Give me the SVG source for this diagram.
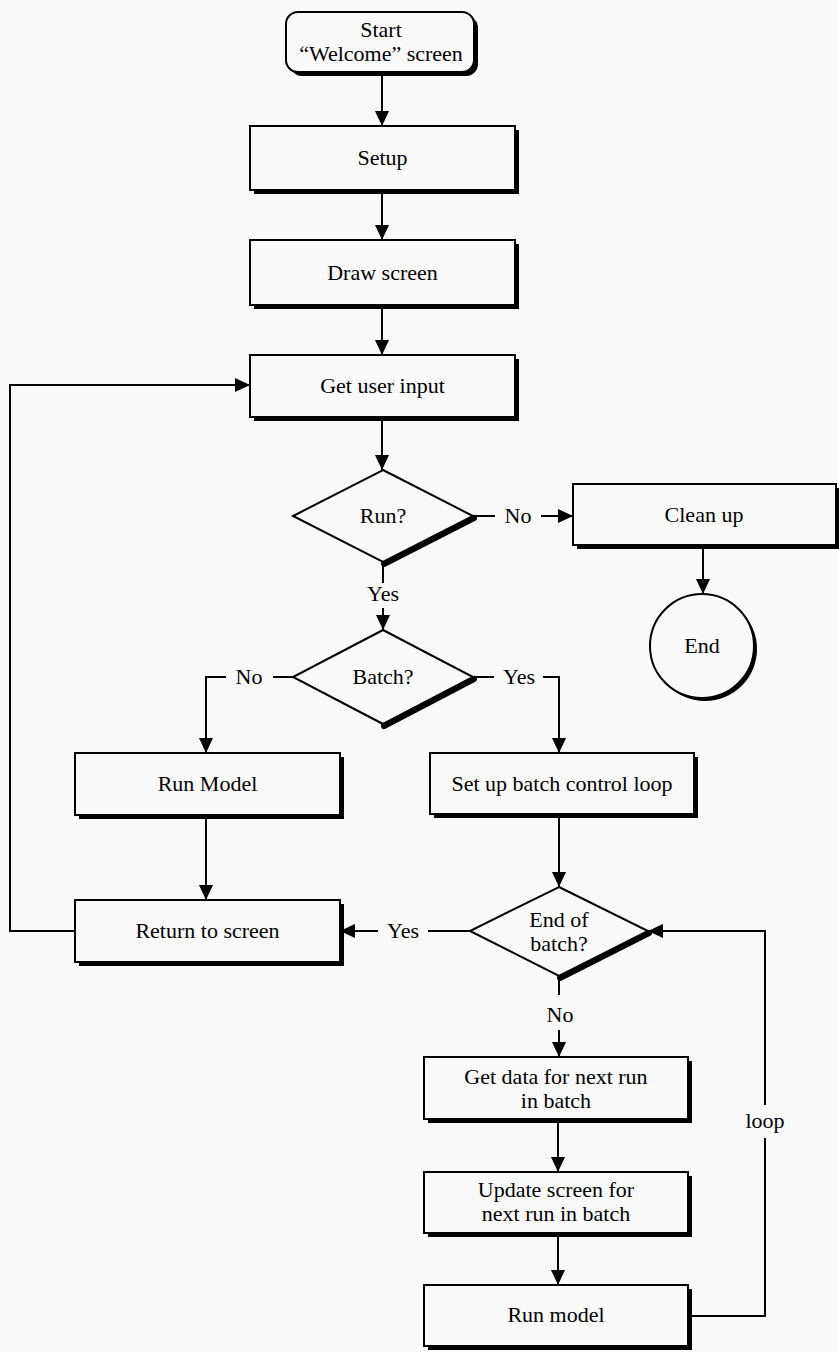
<svg xmlns="http://www.w3.org/2000/svg" width="839" height="1352" viewBox="0 0 839 1352">
<defs>
<marker id="ah" markerUnits="userSpaceOnUse" markerWidth="16" markerHeight="14" refX="15" refY="7" orient="auto">
<path d="M0,0 L15,7 L0,14 z" fill="#000"/>
</marker>
<style>
.box{fill:#fafafa;stroke:#000;stroke-width:2}
.sh{fill:#000;stroke:none}
.dsh{fill:none;stroke:#000;stroke-width:6;stroke-linecap:round}
.t{font-family:"Liberation Serif","Times New Roman",serif;font-size:22px;fill:#000;text-anchor:middle}
.c{fill:none;stroke:#000;stroke-width:2}
</style>
</defs>
<rect width="839" height="1352" fill="#fafafa"/>

<g id="start">
<rect class="sh" x="290" y="16" width="188" height="60" rx="12"/>
<rect class="box" x="286" y="12" width="188" height="60" rx="12"/>
<text class="t" x="381" y="37">Start</text>
<text class="t" x="381" y="61">“Welcome” screen</text>
</g>

<g id="setup">
<rect class="sh" x="254" y="130" width="265" height="64"/>
<rect class="box" x="250" y="126" width="265" height="64"/>
<text class="t" x="382.5" y="165">Setup</text>
</g>

<g id="draw">
<rect class="sh" x="254" y="244" width="265" height="65"/>
<rect class="box" x="250" y="240" width="265" height="65"/>
<text class="t" x="382.5" y="280">Draw screen</text>
</g>

<g id="input">
<rect class="sh" x="254" y="359" width="265" height="62"/>
<rect class="box" x="250" y="355" width="265" height="62"/>
<text class="t" x="382.5" y="393">Get user input</text>
</g>

<g id="run">
<polyline class="dsh" points="474,518 384,564"/>
<polygon class="box" points="383,470 473,516 383,562 293,516"/>
<text class="t" x="383" y="523">Run?</text>
</g>

<g id="cleanup">
<rect class="sh" x="577" y="488" width="263" height="61"/>
<rect class="box" x="573" y="484" width="263" height="61"/>
<text class="t" x="704" y="522">Clean up</text>
</g>

<g id="end">
<circle class="sh" cx="705" cy="649" r="52"/>
<circle class="box" cx="702" cy="646" r="52"/>
<text class="t" x="702" y="653">End</text>
</g>

<g id="batch">
<polyline class="dsh" points="474,679 384,726"/>
<polygon class="box" points="383,630 473,677 383,724 293,677"/>
<text class="t" x="383" y="684">Batch?</text>
</g>

<g id="runmodel">
<rect class="sh" x="79" y="757" width="265" height="62"/>
<rect class="box" x="75" y="753" width="265" height="62"/>
<text class="t" x="207.5" y="791">Run Model</text>
</g>

<g id="return">
<rect class="sh" x="79" y="904" width="265" height="62"/>
<rect class="box" x="75" y="900" width="265" height="62"/>
<text class="t" x="207.5" y="938">Return to screen</text>
</g>

<g id="setupbatch">
<rect class="sh" x="434" y="757" width="264" height="61"/>
<rect class="box" x="430" y="753" width="264" height="61"/>
<text class="t" x="562" y="791">Set up batch control loop</text>
</g>

<g id="endbatch">
<polyline class="dsh" points="649,933 560,978"/>
<polygon class="box" points="559,887 648,931 559,976 470,931"/>
<text class="t" x="559" y="927">End of</text>
<text class="t" x="559" y="951">batch?</text>
</g>

<g id="getdata">
<rect class="sh" x="428" y="1061" width="264" height="62"/>
<rect class="box" x="424" y="1057" width="264" height="62"/>
<text class="t" x="556" y="1084">Get data for next run</text>
<text class="t" x="556" y="1108">in batch</text>
</g>

<g id="update">
<rect class="sh" x="428" y="1176" width="264" height="61"/>
<rect class="box" x="424" y="1172" width="264" height="61"/>
<text class="t" x="556" y="1197">Update screen for</text>
<text class="t" x="556" y="1221">next run in batch</text>
</g>

<g id="runmodel2">
<rect class="sh" x="428" y="1289" width="264" height="61"/>
<rect class="box" x="424" y="1285" width="264" height="61"/>
<text class="t" x="556" y="1322">Run model</text>
</g>

<g id="connectors">
<line class="c" x1="382" y1="74" x2="382" y2="126" marker-end="url(#ah)"/>
<line class="c" x1="382" y1="192" x2="382" y2="240" marker-end="url(#ah)"/>
<line class="c" x1="382" y1="307" x2="382" y2="355" marker-end="url(#ah)"/>
<line class="c" x1="382" y1="419" x2="382" y2="470" marker-end="url(#ah)"/>

<line class="c" x1="473" y1="516" x2="495" y2="516"/>
<text class="t" x="518" y="523">No</text>
<line class="c" x1="541" y1="516" x2="573" y2="516" marker-end="url(#ah)"/>

<line class="c" x1="383" y1="562" x2="383" y2="583"/>
<text class="t" x="383" y="601">Yes</text>
<line class="c" x1="383" y1="608" x2="383" y2="630" marker-end="url(#ah)"/>

<line class="c" x1="703" y1="547" x2="703" y2="594" marker-end="url(#ah)"/>

<line class="c" x1="293" y1="677" x2="273" y2="677"/>
<text class="t" x="249" y="684">No</text>
<polyline class="c" points="226,677 206,677 206,753" marker-end="url(#ah)"/>

<line class="c" x1="473" y1="677" x2="494" y2="677"/>
<text class="t" x="519" y="684">Yes</text>
<polyline class="c" points="543,677 559,677 559,753" marker-end="url(#ah)"/>

<line class="c" x1="206" y1="817" x2="206" y2="900" marker-end="url(#ah)"/>
<line class="c" x1="559" y1="816" x2="559" y2="887" marker-end="url(#ah)"/>

<line class="c" x1="470" y1="931" x2="428" y2="931"/>
<text class="t" x="403" y="938">Yes</text>
<line class="c" x1="378" y1="931" x2="340" y2="931" marker-end="url(#ah)"/>

<polyline class="c" points="75,931 10,931 10,385 250,385" marker-end="url(#ah)"/>

<line class="c" x1="559" y1="976" x2="559" y2="995"/>
<text class="t" x="560" y="1022">No</text>
<line class="c" x1="559" y1="1030" x2="559" y2="1057" marker-end="url(#ah)"/>

<line class="c" x1="558" y1="1121" x2="558" y2="1172" marker-end="url(#ah)"/>
<line class="c" x1="558" y1="1235" x2="558" y2="1285" marker-end="url(#ah)"/>

<polyline class="c" points="690,1316 765,1316 765,1138"/>
<text class="t" x="765" y="1128">loop</text>
<polyline class="c" points="765,1105 765,931 648,931" marker-end="url(#ah)"/>
</g>
</svg>
